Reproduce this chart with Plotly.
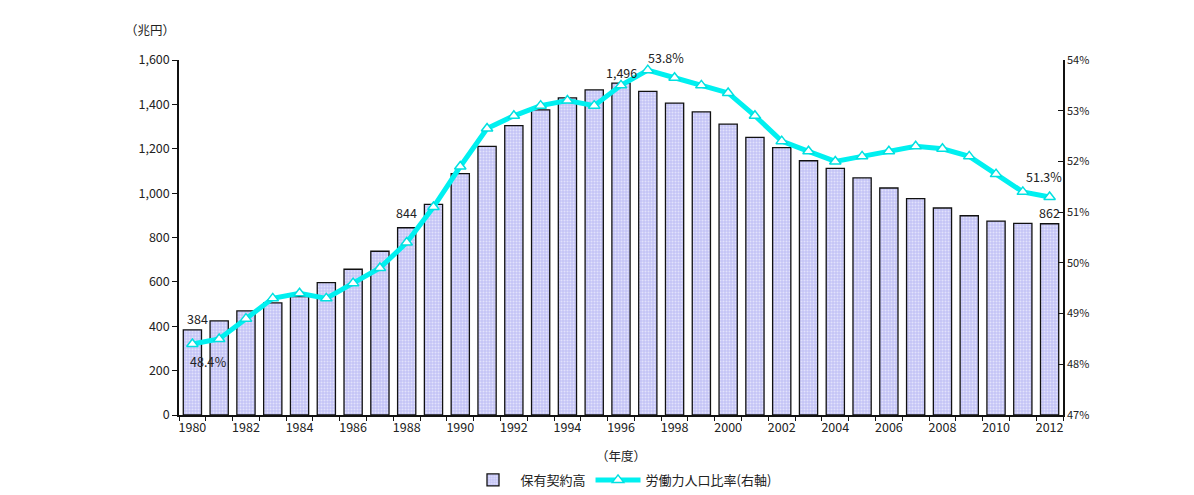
import plotly.graph_objects as go

years = list(range(1980, 2013))
contract = [384, 424, 469, 505, 534, 597, 657, 738, 844, 949, 1088, 1211, 1304, 1375, 1429, 1465, 1496,
            1459, 1406, 1366, 1311, 1251, 1205, 1146, 1112, 1069, 1023, 975, 933, 898, 874, 864, 862]
labor = [48.4, 48.5, 48.9, 49.3, 49.4, 49.3, 49.6, 49.9, 50.4, 51.1, 51.9, 52.65, 52.9, 53.1, 53.2, 53.1, 53.5,
         53.8, 53.65, 53.5, 53.35, 52.9, 52.4, 52.2, 52.0, 52.1, 52.2, 52.3, 52.25, 52.1, 51.75, 51.4, 51.3]

FONT = "Noto Sans CJK JP"

fig = go.Figure()
fig.add_trace(go.Bar(
    x=years, y=contract, name="保有契約高", width=0.68,
    marker=dict(color="#c8c8f8", line=dict(color="#111111", width=1.3),
                pattern=dict(shape=".", fgcolor="white", bgcolor="#c4c4f6", size=3, solidity=0.35)),
    yaxis="y",
))
fig.add_trace(go.Scatter(
    x=years, y=labor, name="労働力人口比率(右軸)", mode="lines+markers",
    line=dict(color="#00f0f0", width=5),
    marker=dict(symbol="triangle-up", size=10, color="white", line=dict(color="#00e0e0", width=1.5)),
    yaxis="y2",
))

anns = [
    dict(x=1980, y=384, yref="y", text="384", xshift=5, yshift=11),
    dict(x=1988, y=844, yref="y", text="844", xshift=0, yshift=15),
    dict(x=1996, y=1496, yref="y", text="1,496", xshift=0, yshift=11),
    dict(x=2012, y=862, yref="y", text="862", xshift=0, yshift=11),
    dict(x=1980, y=48.4, yref="y2", text="48.4％", xshift=16, yshift=-17),
    dict(x=1997, y=53.8, yref="y2", text="53.8%", xshift=18, yshift=13),
    dict(x=2012, y=51.3, yref="y2", text="51.3%", xshift=-6, yshift=20),
]
annotations = [dict(a, xref="x", showarrow=False, xanchor="center", yanchor="middle",
                    font=dict(size=12.5, color="#222222", family=FONT)) for a in anns]
annotations.append(dict(x=-0.033, y=1.087, xref="paper", yref="paper", text="（兆円）", showarrow=False,
                        xanchor="center", yanchor="middle",
                        font=dict(size=12.5, color="#222222", family=FONT)))
annotations.append(dict(x=0.5, y=-0.113, xref="paper", yref="paper", text="（年度）", showarrow=False,
                        xanchor="center", yanchor="middle",
                        font=dict(size=12.5, color="#222222", family=FONT)))

fig.update_layout(
    width=1194, height=495,
    margin=dict(l=171, r=139, t=52, b=88, autoexpand=False),
    plot_bgcolor="white", paper_bgcolor="white",
    font=dict(family=FONT, size=12, color="#222222"),
    bargap=0.3,
    xaxis=dict(range=[1979.5, 2012.5], tickmode="array", tickvals=list(range(1980, 2013, 2)),
               ticks="", showline=True, linecolor="#111111", linewidth=1.5, showgrid=False, zeroline=False,
               automargin=False,
               minor=dict(ticks="outside", tick0=1979.5, dtick=1, ticklen=4, tickcolor="#111111", showgrid=False),
               tickfont=dict(size=12.5)),
    yaxis=dict(range=[0, 1600], dtick=200, tickformat=",", ticks="outside", ticklen=5, tickcolor="#111111",
               showline=True, linecolor="#111111", linewidth=1.5, showgrid=False, zeroline=False,
               automargin=False, tickfont=dict(size=12.5)),
    yaxis2=dict(range=[47, 54], dtick=1, ticksuffix="%", overlaying="y", side="right", ticks="inside",
                ticklen=5, tickcolor="#111111", showline=True, linecolor="#111111", linewidth=1.5,
                showgrid=False, zeroline=False, automargin=False, tickfont=dict(size=11)),
    legend=dict(orientation="h", x=0.5, xanchor="center", y=-0.183, yanchor="middle",
                font=dict(size=13), traceorder="normal", itemwidth=45),
    annotations=annotations,
    showlegend=True,
)

fig.write_html("out.html")
